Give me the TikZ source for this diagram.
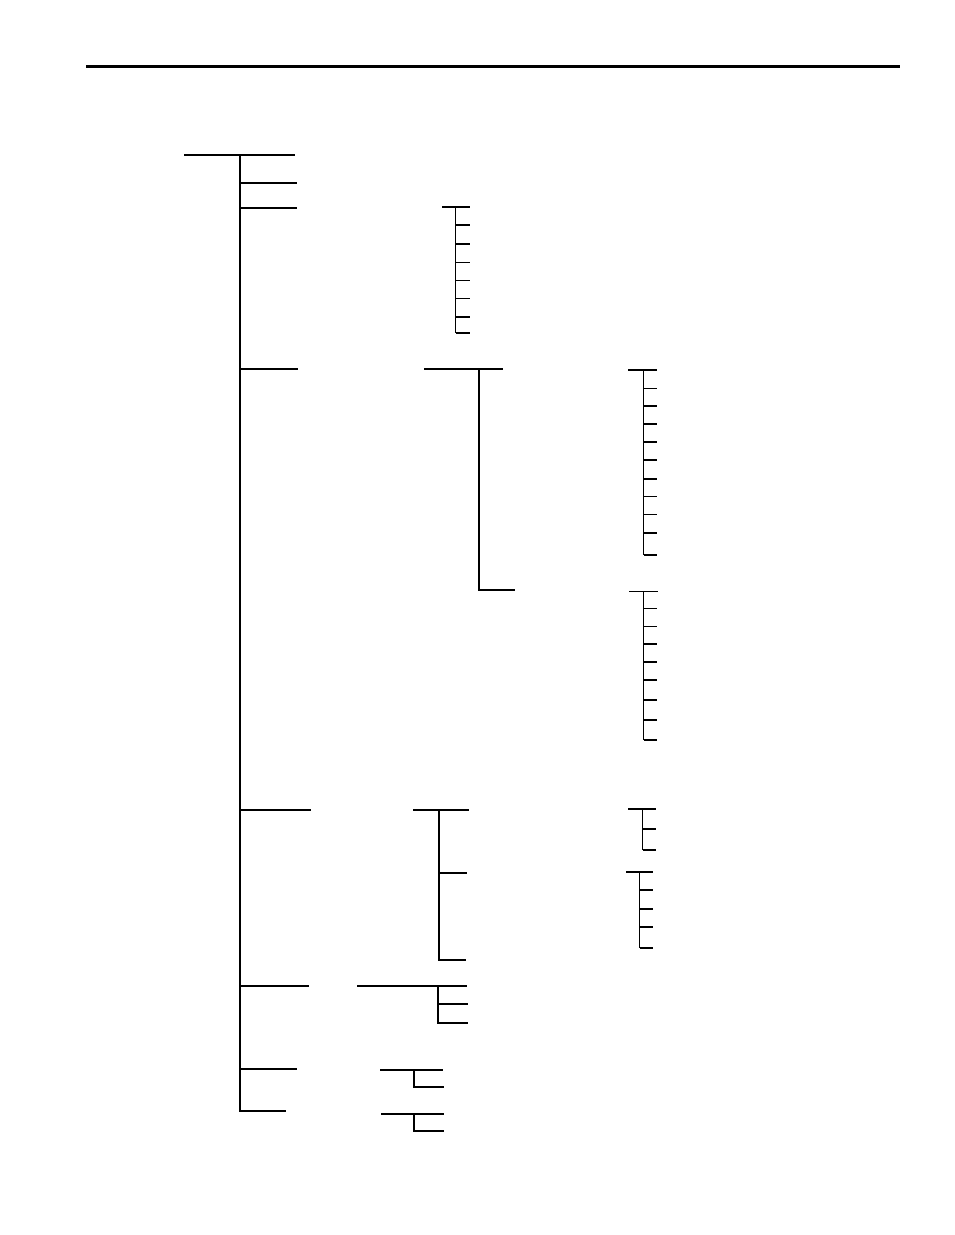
\documentclass[tikz,border=0pt]{standalone}
\begin{document}
\begin{tikzpicture}[x=1pt,y=-1pt,
  thickline/.style={line width=2pt,line cap=rect},
  thinline/.style={line width=1.1pt},
  rule/.style={line width=3pt}]
\useasboundingbox[fill=white] (0,0) rectangle (954,1235);
% header rule
\draw[rule] (86,66) -- (900,66);
% main tree
\coordinate (root) at (185,155);
\draw[thickline] (root) -- (294,155);
\draw[thickline] (240,155) -- (240,1111);
\foreach \y/\x in {182.5/296,207.5/296,369/297,809.5/310,985.5/308,1068.5/296,1111/285}
  \draw[thickline] (240,\y) -- (\x,\y);
% small ladder near top
\draw[thinline] (442,207) -- (470,207);
\draw[thinline] (455.5,207) -- (455.5,333);
\foreach \y in {225,244,262.5,280.5,298.5,317,333}
  \draw[thinline] (455.5,\y) -- (470,\y);
% second-level tree under branch 4
\draw[thickline] (425,369) -- (502,369);
\draw[thickline] (479,369) -- (479,590);
\draw[thickline] (479,590) -- (514,590);
% ladder 1
\draw[thinline] (628,370) -- (657,370);
\draw[thinline] (643.5,370) -- (643.5,555);
\foreach \y in {388.5,406,424,442,460,479,496.5,514.5,533,555}
  \draw[thinline] (643.5,\y) -- (657,\y);
% ladder 2
\draw[thinline] (629,591.5) -- (658,591.5);
\draw[thinline] (643.5,591.5) -- (643.5,740);
\foreach \y in {608.5,626.5,644,662,680,700,720,740}
  \draw[thinline] (643.5,\y) -- (657,\y);
% tree under branch 5
\draw[thickline] (414,809.5) -- (468,809.5);
\draw[thickline] (439,809.5) -- (439,959.5);
\draw[thickline] (439,872.5) -- (466,872.5);
\draw[thickline] (439,959.5) -- (465,959.5);
% ladder 3
\draw[thinline] (628,809) -- (656,809);
\draw[thinline] (642.5,809) -- (642.5,850);
\foreach \y in {829,850}
  \draw[thinline] (642.5,\y) -- (656,\y);
% ladder 4
\draw[thinline] (626,872) -- (653,872);
\draw[thinline] (639.5,872) -- (639.5,948);
\foreach \y in {890,909,927,948}
  \draw[thinline] (639.5,\y) -- (653,\y);
% tree under branch 6
\draw[thickline] (358,985.5) -- (466,985.5);
\draw[thickline] (437.5,985.5) -- (437.5,1022.5);
\draw[thickline] (437.5,1004) -- (467,1004);
\draw[thickline] (437.5,1022.5) -- (467,1022.5);
% small trees under branches 7,8
\draw[thickline] (381,1069.5) -- (442,1069.5);
\draw[thickline] (414,1069.5) -- (414,1086.5);
\draw[thickline] (414,1086.5) -- (443,1086.5);
\draw[thickline] (382,1113.5) -- (443,1113.5);
\draw[thickline] (414,1113.5) -- (414,1131);
\draw[thickline] (414,1131) -- (443,1131);
\end{tikzpicture}
\end{document}
